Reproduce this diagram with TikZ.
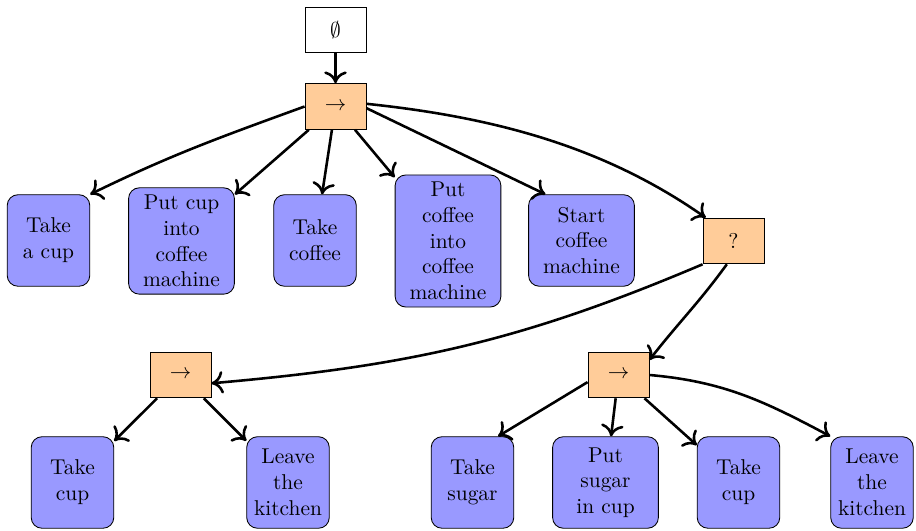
\documentclass[tikz,border=0pt]{standalone}
\usetikzlibrary{arrows.meta}
\begin{document}
\begin{tikzpicture}[x=0.4664pt,y=-0.4664pt,
  ctrl/.style={draw=black,fill=orange!40,minimum width=1cm,minimum height=0.75cm,inner sep=0pt},
  root/.style={draw=black,fill=white,minimum width=1cm,minimum height=0.75cm,inner sep=0pt},
  act/.style={draw=black,fill=blue!40,rounded corners=5pt,align=center,minimum width=38.5pt,minimum height=1.5cm},
  wideact/.style={act,text width=1.5cm},
  link/.style={-{To[length=5.5pt,width=10.5pt]},very thick}]
\useasboundingbox (0,0) rectangle (916,531);

% root and main sequence
\node[root] (e) at (335.5,30) {$\emptyset$};
\node[ctrl] (s1) at (335.5,106.5) {$\rightarrow$};

% first row of actions
\node[act] (n1) at (48.5,240.5) {Take\\a cup};
\node[wideact] (n2) at (181.5,241) {Put cup\\into\\coffee\\machine};
\node[act] (n3) at (315,240.5) {Take\\coffee};
\node[wideact] (n4) at (448,241) {Put\\coffee\\into\\coffee\\machine};
\node[wideact] (n5) at (581.5,240.5) {Start\\coffee\\machine};
\node[ctrl] (q) at (733.5,241) {?};

% fallback branches
\node[ctrl] (s2) at (180.5,375) {$\rightarrow$};
\node[ctrl] (s3) at (618.5,375) {$\rightarrow$};

\node[act] (m1) at (72.5,482.5) {Take\\cup};
\node[act] (m2) at (288,482.5) {Leave\\the\\kitchen};

\node[act] (k1) at (472.5,482.5) {Take\\sugar};
\node[wideact] (k2) at (605.5,482.5) {Put\\sugar\\in cup};
\node[act] (k3) at (738.5,482.5) {Take\\cup};
\node[act] (k4) at (872,482.5) {Leave\\the\\kitchen};

% connectors
\draw[link] (e) -- (s1);
\draw[link] (s1.west) to[out=200,in=26] (n1.north east);
\draw[link] (s1) -- (n2);
\draw[link] (s1) -- (n3);
\draw[link] (s1) -- (n4);
\draw[link] (s1.-3) -- (n5.128);
\draw[link] (s1.5) to[out=-6,in=145,looseness=0.9] (q.140);

\draw[link] (q.south west) to[out=203,in=5] (s2.-15);
\draw[link] (q.254) to[out=234,in=52] (s3.26);

\draw[link] (s2) -- (m1);
\draw[link] (s2) -- (m2);

\draw[link] (s3.193) -- (k1.61);
\draw[link] (s3) -- (k2);
\draw[link] (s3) -- (k3);
\draw[link] (s3.east) to[out=-5,in=152] (k4.north west);
\end{tikzpicture}
\end{document}
